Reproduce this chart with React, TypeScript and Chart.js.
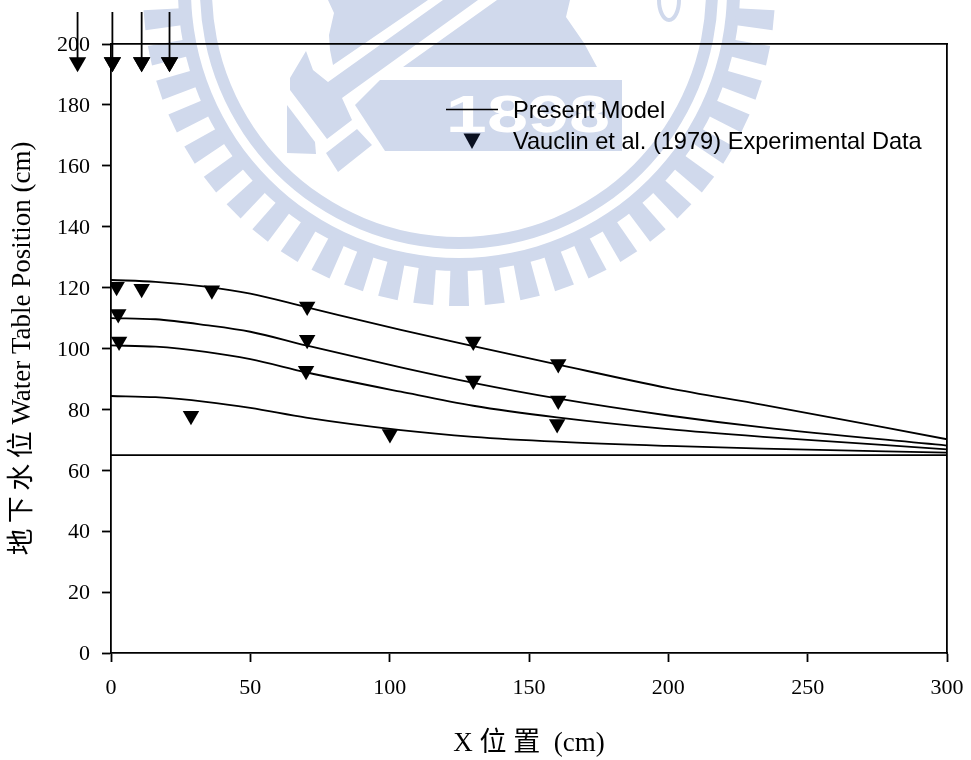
import React, { useEffect, useRef } from "react";
import { Chart, registerables } from "chart.js";

Chart.register(...registerables);

const xTickStep = 50;
const yTickStep = 20;
const xTitle = "X 位 置  (cm)";
const yTitle = "地\u2009下\u2009水\u2009位 Water Table Position (cm)";
const legendLine = "Present Model";
const legendMarker = "Vauclin et al. (1979) Experimental Data";

const curveX = [0, 16, 34, 50, 70, 104, 130, 160, 200, 234, 300];
const curve1 = [122.5, 121.9, 120.3, 118, 113.6, 106.1, 100.8, 94.8, 87, 81.5, 70.2];
const curve2 = [110, 109.6, 107.7, 105.5, 101, 93.8, 88.7, 83.6, 78, 74.1, 68.1];
const curve3 = [101, 100.6, 98.9, 96.5, 92.2, 85.8, 81.2, 77.4, 73.5, 71, 66.9];
const curve4 = [84.4, 84, 82.5, 80.5, 77.3, 73.2, 71, 69.4, 68, 67.1, 65.8];
const baseX = [0, 300];
const baseY = [65, 65];

const markerX = [2, 2.6, 2.9, 11, 36.2, 70.4, 70.4, 70, 130, 130, 160.5, 160.5, 160.1, 28.7, 100.1];
const markerY = [120.3, 111.3, 102.3, 119.6, 119.1, 113.8, 102.9, 92.7, 102.3, 89.5, 94.9, 82.9, 75.2, 77.9, 71.9];

const arrowX = [-12, 0.5, 11, 21];
const arrowTopY = 210.5;
const arrowTipY = 194;

const pairs = (xs: number[], ys: number[]) => xs.map((x, i) => ({ x, y: ys[i] }));

const watermark = {
  id: "watermark",
  beforeDraw(chart: Chart) {
    const c = chart.ctx;
    const cx = 459;
    const cy = -10;
    const blue = "#d0d9ec";
    c.save();
    c.fillStyle = blue;
    c.strokeStyle = blue;
    // inner ring
    c.beginPath();
    c.arc(cx, cy, 259, 0, Math.PI * 2);
    c.arc(cx, cy, 247, 0, Math.PI * 2, true);
    c.fill();
    // outer ring
    c.beginPath();
    c.arc(cx, cy, 281, 0, Math.PI * 2);
    c.arc(cx, cy, 268, 0, Math.PI * 2, true);
    c.fill();
    // teeth
    for (let k = -14; k <= 14; k++) {
      const a = Math.PI / 2 + (k * 6.5 * Math.PI) / 180;
      const dx = Math.cos(a);
      const dy = Math.sin(a);
      const nx = -dy;
      const ny = dx;
      c.beginPath();
      c.moveTo(cx + dx * 278 + nx * 8.5, cy + dy * 278 + ny * 8.5);
      c.lineTo(cx + dx * 316 + nx * 10, cy + dy * 316 + ny * 10);
      c.lineTo(cx + dx * 316 - nx * 10, cy + dy * 316 - ny * 10);
      c.lineTo(cx + dx * 278 - nx * 8.5, cy + dy * 278 - ny * 8.5);
      c.closePath();
      c.fill();
    }
    const polys = [
      [[328, 0], [334, 13], [329, 35], [330, 50], [333, 65], [428, 0]],
      [[443, 0], [478, 0], [342, 98], [352, 120], [327, 139], [290, 90], [290, 78], [306, 51], [313, 70], [328, 82]],
      [[287, 105], [315, 142], [316, 154], [287, 153]],
      [[357, 129], [372, 145], [338, 172], [326, 153]],
      [[380, 80], [622, 80], [622, 151], [385, 151], [355, 105]],
      [[497, 0], [403, 67], [597, 67], [584, 43], [566, 17], [570, 0]],
    ];
    polys.forEach((p) => {
      c.beginPath();
      p.forEach(([x, y], i) => (i ? c.lineTo(x, y) : c.moveTo(x, y)));
      c.closePath();
      c.fill();
    });
    c.lineWidth = 4;
    c.beginPath();
    c.ellipse(669, 0, 10, 20, 0, 0, Math.PI * 2);
    c.stroke();
    // year
    c.save();
    c.translate(528, 132);
    c.scale(1.42, 1);
    c.fillStyle = "#ffffff";
    c.font = 'bold 52px "Liberation Sans"';
    c.textAlign = "center";
    c.textBaseline = "alphabetic";
    c.fillText("1898", 0, 0);
    c.restore();
    c.restore();
  },
};

const outsidePoints = {
  id: "outsidePoints",
  afterDatasetsDraw(chart: Chart) {
    chart.getDatasetMeta(1).data.forEach((p: any) => p.draw(chart.ctx));
  },
};

const legendPlugin = {
  id: "paperLegend",
  afterDraw(chart: Chart) {
    const c = chart.ctx;
    c.save();
    c.strokeStyle = "#000";
    c.fillStyle = "#000";
    c.lineWidth = 1.5;
    c.beginPath();
    c.moveTo(446, 109.5);
    c.lineTo(498, 109.5);
    c.stroke();
    c.fillStyle = "#0a1020";
    c.beginPath();
    c.moveTo(463.5, 133.5);
    c.lineTo(480.5, 133.5);
    c.lineTo(472, 149);
    c.closePath();
    c.fill();
    c.fillStyle = "#000";
    c.font = '23.6px "Liberation Sans"';
    c.textBaseline = "middle";
    c.textAlign = "left";
    c.fillText(legendLine, 513, 111);
    c.fillText(legendMarker, 513, 142);
    c.restore();
  },
};

export default function App() {
  const ref = useRef<HTMLCanvasElement>(null);
  useEffect(() => {
    const lineStyle = {
      showLine: true,
      pointRadius: 0,
      borderColor: "#000",
      borderWidth: 1.8,
      cubicInterpolationMode: "monotone" as const,
    };
    const serif = '"Liberation Serif", "Noto Sans CJK TC"';
    const axisBase = {
      type: "linear" as const,
      border: { display: true, color: "#000", width: 1.8 },
    };
    const hidden = {
      ...axisBase,
      ticks: { display: false },
      grid: { display: false },
    };
    const chart = new Chart(ref.current!, {
      type: "scatter",
      data: {
        datasets: [
          {
            label: legendMarker,
            data: pairs(markerX, markerY),
            pointStyle: "triangle",
            rotation: 180,
            pointRadius: 9.5,
            pointBackgroundColor: "#000",
            pointBorderWidth: 0,
            showLine: false,
          },
          {
            label: "Applied recharge",
            data: pairs(arrowX, arrowX.map(() => arrowTipY)),
            pointStyle: "triangle",
            rotation: 180,
            pointRadius: 10,
            pointBackgroundColor: "#000",
            pointBorderWidth: 0,
            showLine: false,
            clip: false,
          },
          ...arrowX.map((x) => ({
            label: "Arrow",
            data: [
              { x, y: arrowTopY },
              { x, y: arrowTipY },
            ],
            showLine: true,
            pointRadius: 0,
            borderColor: "#000",
            borderWidth: 1.8,
            clip: false,
          })),
          { label: legendLine, data: pairs(curveX, curve1), ...lineStyle },
          { label: "t2", data: pairs(curveX, curve2), ...lineStyle },
          { label: "t3", data: pairs(curveX, curve3), ...lineStyle },
          { label: "t4", data: pairs(curveX, curve4), ...lineStyle },
          { label: "Initial", data: pairs(baseX, baseY), ...lineStyle },
        ],
      },
      options: {
        responsive: false,
        animation: false,
        layout: { padding: { top: 44, right: 24, left: 0, bottom: 0 } },
        plugins: { legend: { display: false }, tooltip: { enabled: false } },
        scales: {
          x: {
            ...axisBase,
            position: "bottom",
            min: 0,
            max: 300,
            afterFit: (s: any) => {
              s.height = 107;
              s.paddingLeft = 0;
              s.paddingRight = 0;
            },
            ticks: {
              stepSize: xTickStep,
              color: "#000",
              padding: 13,
              maxRotation: 0,
              font: { family: serif, size: 22 },
            },
            grid: { display: true, drawOnChartArea: false, tickLength: 9, tickWidth: 1.8, tickColor: "#000" },
            title: {
              display: true,
              text: xTitle,
              color: "#000",
              padding: { top: 11, bottom: 0 },
              font: { family: serif, size: 27 },
            },
          },
          y: {
            ...axisBase,
            position: "left",
            min: 0,
            max: 200,
            afterFit: (s: any) => {
              s.width = 111;
              s.paddingTop = 0;
              s.paddingBottom = 0;
            },
            ticks: {
              stepSize: yTickStep,
              color: "#000",
              padding: 12,
              labelOffset: 1.5,
              font: { family: serif, size: 22 },
            },
            grid: { display: true, drawOnChartArea: false, tickLength: 9, tickWidth: 1.8, tickColor: "#000" },
            title: {
              display: true,
              text: yTitle,
              color: "#000",
              padding: { top: 7, bottom: 0 },
              font: { family: serif, size: 27 },
            },
          },
          xTop: {
            ...hidden,
            position: "top",
            min: 0,
            max: 300,
            afterFit: (s: any) => {
              s.height = 0;
            },
          },
          yRight: {
            ...hidden,
            position: "right",
            min: 0,
            max: 200,
            afterFit: (s: any) => {
              s.width = 0;
            },
          },
        },
      },
      plugins: [watermark, outsidePoints, legendPlugin],
    } as any);
    return () => chart.destroy();
  }, []);
  return (
    <div style={{ position: "absolute", left: 0, top: 0, width: 971, height: 760 }}>
      <canvas ref={ref} width={971} height={760} style={{ display: "block" }} />
    </div>
  );
}
